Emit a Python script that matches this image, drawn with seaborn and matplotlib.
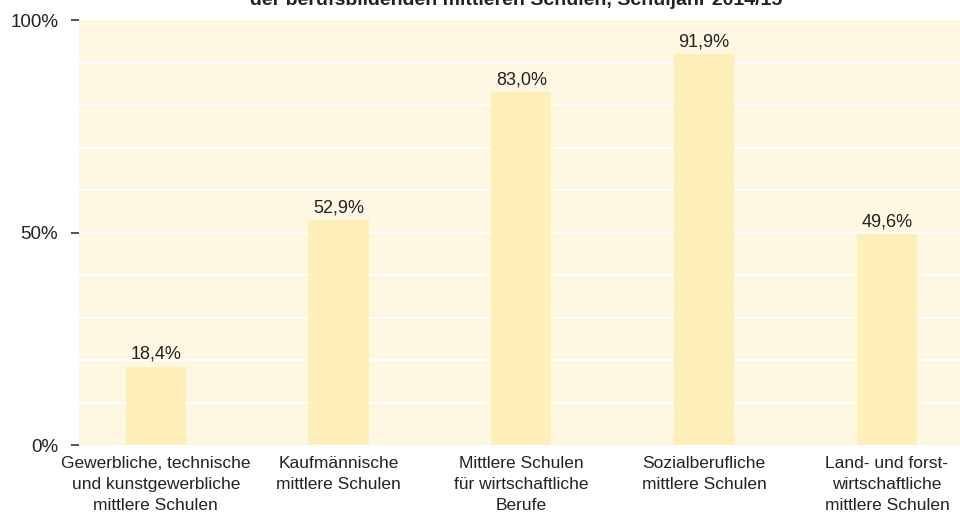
import matplotlib
matplotlib.use("Agg")
import matplotlib.pyplot as plt
import seaborn as sns
import pandas as pd

# Data
categories = [
    "Gewerbliche, technische\nund kunstgewerbliche\nmittlere Schulen",
    "Kaufmännische\nmittlere Schulen",
    "Mittlere Schulen\nfür wirtschaftliche\nBerufe",
    "Sozialberufliche\nmittlere Schulen",
    "Land- und forst-\nwirtschaftliche\nmittlere Schulen",
]
values = [18.4, 52.9, 83.0, 91.9, 49.6]
title = "der berufsbildenden mittleren Schulen, Schuljahr 2014/15"

df = pd.DataFrame({"cat": categories, "val": values})

sns.set_style("white")
plt.rcParams["font.family"] = ["Liberation Sans", "DejaVu Sans"]

fig = plt.figure(figsize=(9.6, 5.2), dpi=100)
ax = fig.add_axes([79 / 960, 75 / 520, 1 - 79 / 960, 425 / 520])
ax.set_facecolor("#fef7e1")

sns.barplot(data=df, x="cat", y="val", color="#feefb8", width=0.33,
            saturation=1, linewidth=0, ax=ax, zorder=3)

ax.set_ylim(0, 100)
ax.set_xlim(-0.42, 4.40)
ax.set_yticks([0, 50, 100])
ax.set_yticklabels(["0%", "50%", "100%"])
for y in range(10, 100, 10):
    ax.axhline(y, color="white", lw=1.5, zorder=1)

labels = [f"{v:.1f}".replace(".", ",") + "%" for v in values]
ax.bar_label(ax.containers[0], labels=labels, padding=3, fontsize=13, color="#222222")

ax.set_xlabel("")
ax.set_ylabel("")
ax.tick_params(axis="y", length=6, width=1.3, color="#444444", pad=9,
               labelsize=13.5, labelcolor="#222222", left=True)
ax.tick_params(axis="x", length=0, pad=8, labelsize=12.5, labelcolor="#222222")
for lab in ax.get_xticklabels():
    lab.set_linespacing(1.5)
for s in ax.spines.values():
    s.set_visible(False)

# title line is partly cut off at the top, as in the source
fig.text(0.5375, 1 - 5 / 520, title, ha="center", va="baseline",
         fontsize=14, fontweight="bold", color="#222222")

fig.savefig("out.png", dpi=100)
